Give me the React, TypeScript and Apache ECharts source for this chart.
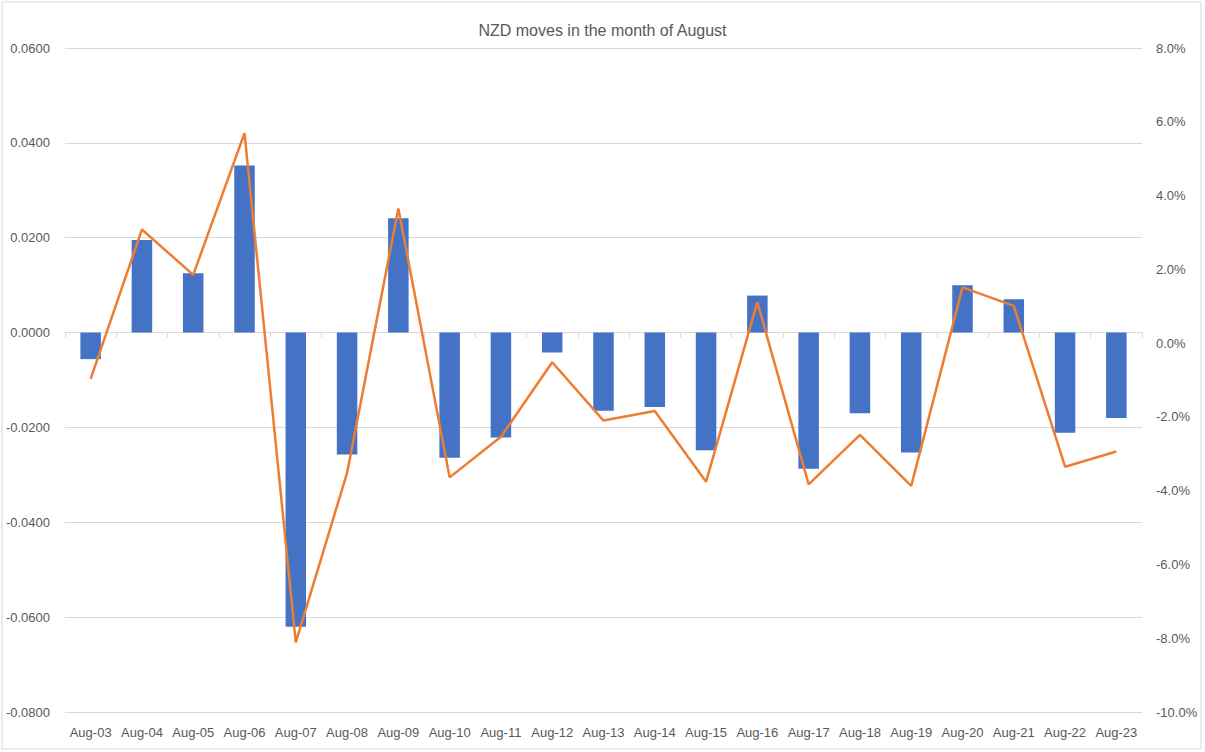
import React, { useEffect, useRef } from "react";
import * as echarts from "echarts";

const categories = [
  "Aug-03", "Aug-04", "Aug-05", "Aug-06", "Aug-07", "Aug-08", "Aug-09",
  "Aug-10", "Aug-11", "Aug-12", "Aug-13", "Aug-14", "Aug-15", "Aug-16",
  "Aug-17", "Aug-18", "Aug-19", "Aug-20", "Aug-21", "Aug-22", "Aug-23",
];

// NZD absolute move (left axis)
const moveValues = [
  -0.0056, 0.0195, 0.0125, 0.0352, -0.062, -0.0257, 0.0241,
  -0.0264, -0.0221, -0.0042, -0.0165, -0.0157, -0.0248, 0.0078,
  -0.0287, -0.017, -0.0253, 0.01, 0.007, -0.0211, -0.018,
];

// NZD percentage move (right axis, in %)
const pctValues = [
  -0.97, 3.08, 1.85, 5.69, -8.11, -3.52, 3.65,
  -3.64, -2.54, -0.52, -2.1, -1.84, -3.76, 1.11,
  -3.83, -2.49, -3.87, 1.51, 1.01, -3.35, -2.94,
];

const titleText = "NZD moves in the month of August";

export default function App() {
  const ref = useRef<HTMLDivElement>(null);

  useEffect(() => {
    document.body.style.margin = "0";
    if (!ref.current) return;
    const chart = echarts.init(ref.current, undefined, { renderer: "svg" });
    const font = "'Liberation Sans', Arial, sans-serif";
    const textColor = "#595959";
    const gridColor = "#d9d9d9";
    chart.setOption({
      animation: false,
      backgroundColor: "#ffffff",
      textStyle: { fontFamily: font },
      title: {
        text: titleText,
        left: "center",
        top: 17,
        textStyle: { fontSize: 16, fontWeight: "normal", color: textColor, fontFamily: font },
      },
      graphic: [
        {
          type: "rect",
          shape: { x: 2, y: 2, width: 1199, height: 747 },
          style: { fill: "none", stroke: gridColor, lineWidth: 1 },
          silent: true,
        },
      ],
      grid: { left: 65, right: 63, top: 48, bottom: 40, containLabel: false },
      xAxis: [
        {
          type: "category",
          data: categories,
          position: "bottom",
          axisLine: { show: false, onZero: false },
          axisTick: { show: false },
          axisLabel: { color: textColor, fontSize: 13, margin: 14, fontFamily: font, interval: 0 },
        },
        {
          type: "category",
          data: categories,
          position: "bottom",
          axisLine: { show: true, onZero: true, onZeroAxisIndex: 0, lineStyle: { color: gridColor, width: 1 } },
          axisTick: { show: true, length: 5, lineStyle: { color: gridColor } },
          axisLabel: { show: false },
          splitLine: { show: false },
        },
      ],
      yAxis: [
        {
          type: "value",
          position: "left",
          min: -0.08,
          max: 0.06,
          interval: 0.02,
          axisLine: { show: false },
          axisTick: { show: false },
          axisLabel: {
            color: textColor,
            fontSize: 13,
            margin: 15,
            fontFamily: font,
            formatter: (v: number) => v.toFixed(4),
          },
          splitLine: { show: true, lineStyle: { color: gridColor, width: 1 } },
        },
        {
          type: "value",
          position: "right",
          min: -10,
          max: 8,
          interval: 2,
          axisLine: { show: false },
          axisTick: { show: false },
          axisLabel: {
            color: textColor,
            fontSize: 13,
            margin: 14,
            align: "left",
            fontFamily: font,
            formatter: (v: number) => v.toFixed(1) + "%",
          },
          splitLine: { show: false },
        },
      ],
      series: [
        {
          name: "Move",
          type: "bar",
          xAxisIndex: 0,
          yAxisIndex: 0,
          data: moveValues,
          barCategoryGap: "60%",
          itemStyle: { color: "#4472C4" },
        },
        {
          name: "Move %",
          type: "line",
          xAxisIndex: 0,
          yAxisIndex: 1,
          data: pctValues,
          showSymbol: false,
          symbol: "none",
          lineStyle: { color: "#ED7D31", width: 2.5 },
          z: 5,
        },
      ],
    });
    return () => chart.dispose();
  }, []);

  return <div ref={ref} style={{ width: 1205, height: 752 }} />;
}
